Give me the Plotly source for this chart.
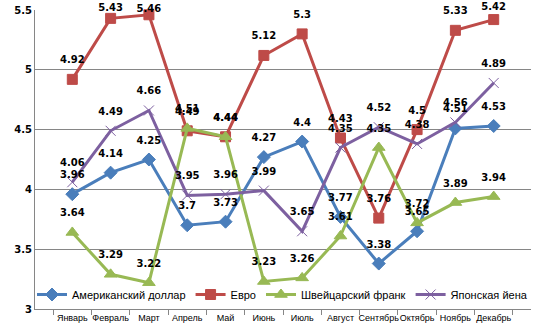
import plotly.graph_objects as go

months = ["Январь", "Февраль", "Март", "Апрель", "Май", "Июнь", "Июль",
          "Август", "Сентябрь", "Октябрь", "Ноябрь", "Декабрь"]
usd = [3.96, 4.14, 4.25, 3.70, 3.73, 4.27, 4.40, 3.77, 3.38, 3.65, 4.51, 4.53]
eur = [4.92, 5.43, 5.46, 4.49, 4.44, 5.12, 5.30, 4.43, 3.76, 4.50, 5.33, 5.42]
chf = [3.64, 3.29, 3.22, 4.51, 4.44, 3.23, 3.26, 3.61, 4.35, 3.72, 3.89, 3.94]
jpy = [4.06, 4.49, 4.66, 3.95, 3.96, 3.99, 3.65, 4.35, 4.52, 4.38, 4.56, 4.89]

series = [
    ("Американский доллар", usd, "#4A7EBB", "diamond", 10),
    ("Евро", eur, "#BE4B48", "square", 10),
    ("Швейцарский франк", chf, "#98B954", "triangle-up", 11),
    ("Японская йена", jpy, "#7D60A0", "x-thin-open", 10),
]

Y0, Y1 = 3.0, 5.5
T, B = 10, 24
H = 333
plot_h = H - T - B


def label_anchor_size(v):
    # invisible anchor marker size so that labels sit ~18px above the point,
    # but never above the top of the plot area (like the reference)
    py = T + (Y1 - v) / (Y1 - Y0) * plot_h
    offset = min(18.0, py - 7.0)
    return max(0.0, 2 * (offset - 8.0))


fig = go.Figure()
for name, vals, color, sym, sz in series:
    fig.add_trace(go.Scatter(
        x=months, y=vals, name=name,
        mode="lines+markers",
        line=dict(color=color, width=3),
        marker=dict(symbol=sym, size=sz, color=color,
                    line=dict(color=color, width=1)),
        cliponaxis=False,
    ))
for name, vals, color, sym, sz in series:
    fig.add_trace(go.Scatter(
        x=months, y=vals, name=name + " labels", showlegend=False,
        mode="markers+text",
        text=[("%g" % v) for v in vals],
        textposition="top center",
        textfont=dict(family="DejaVu Sans", size=10, color="black", weight="bold"),
        marker=dict(size=[label_anchor_size(v) for v in vals],
                    color="rgba(0,0,0,0)", opacity=0,
                    line=dict(width=0, color="rgba(0,0,0,0)")),
        hoverinfo="skip",
        cliponaxis=False,
    ))

fig.update_layout(
    width=533, height=333,
    margin=dict(l=35, r=2, t=T, b=B),
    paper_bgcolor="white", plot_bgcolor="white",
    font=dict(family="DejaVu Sans", color="black"),
    showlegend=True,
    legend=dict(orientation="h", x=0.0, y=0.0, xanchor="left", yanchor="bottom",
                bgcolor="rgba(0,0,0,0)",
                font=dict(size=11, family="Liberation Sans"),
                itemwidth=30, tracegroupgap=0),
)
fig.update_xaxes(
    type="category", showgrid=False, showline=True, linecolor="#868686",
    linewidth=1, ticks="outside", tickson="boundaries", ticklen=5,
    tickcolor="#868686", tickfont=dict(size=9, family="Liberation Sans"),
    tickangle=0,
)
fig.update_yaxes(
    range=[Y0, Y1], dtick=0.5, showgrid=True, gridcolor="#868686", gridwidth=1,
    showline=True, linecolor="#868686", linewidth=1, ticks="",
    tickfont=dict(size=10, family="DejaVu Sans", weight="bold"),
    zeroline=False,
)

fig.write_html("out.html")
